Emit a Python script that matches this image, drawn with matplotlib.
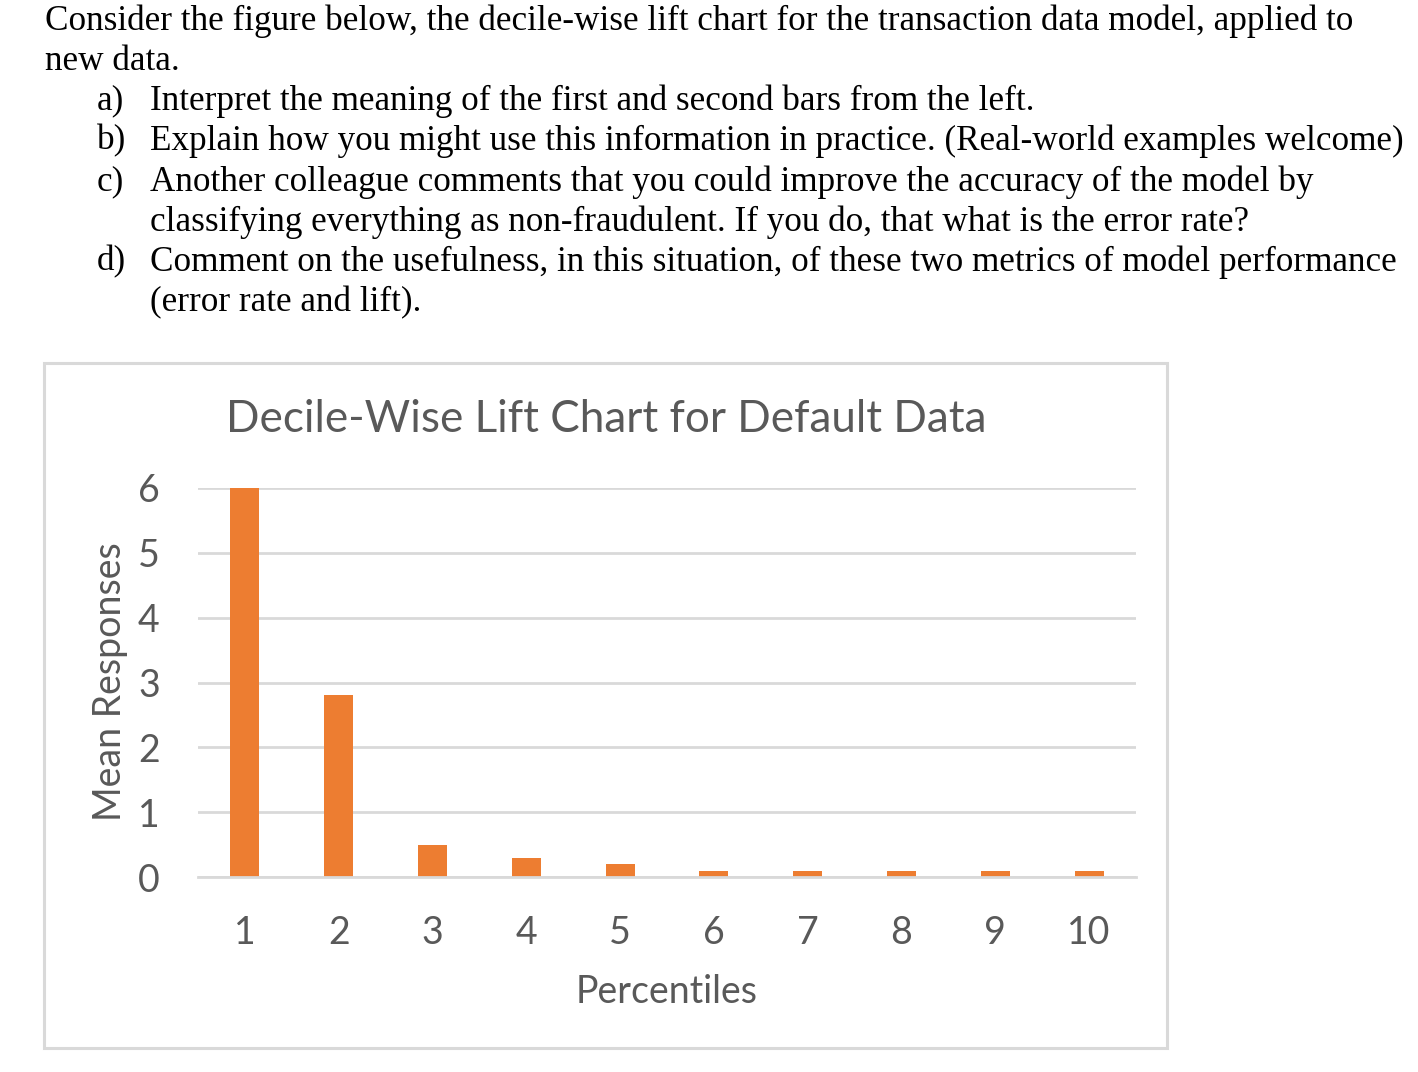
import matplotlib
matplotlib.use("Agg")
import matplotlib.pyplot as plt
from matplotlib.patches import Rectangle

# ---- data ----
deciles = [1, 2, 3, 4, 5, 6, 7, 8, 9, 10]
mean_responses = [6.0, 2.8, 0.5, 0.3, 0.2, 0.1, 0.1, 0.1, 0.1, 0.1]
y_ticks = [0, 1, 2, 3, 4, 5, 6]

title = "Decile-Wise Lift Chart for Default Data"
xlabel = "Percentiles"
ylabel = "Mean Responses"

question_lines = [
    (45, 20, "Consider the figure below, the decile-wise lift chart for the transaction data model, applied to"),
    (45, 60, "new data."),
    (150, 100, "Interpret the meaning of the first and second bars from the left."),
    (150, 140, "Explain how you might use this information in practice. (Real-world examples welcome)"),
    (150, 181, "Another colleague comments that you could improve the accuracy of the model by"),
    (150, 221, "classifying everything as non-fraudulent. If you do, that what is the error rate?"),
    (150, 261, "Comment on the usefulness, in this situation, of these two metrics of model performance"),
    (150, 302, "(error rate and lift)."),
]
item_labels = [(97, 100, "a)"), (97, 140, "b)"), (97, 181, "c)"), (97, 261, "d)")]

W, H = 1418, 1072
fig = plt.figure(figsize=(W / 100, H / 100), dpi=100)
fig.patch.set_facecolor("white")

def fx(x):
    return x / W

def fy(y):
    return 1 - y / H

serif = ["Liberation Serif", "DejaVu Serif"]
for x, y, s in question_lines + item_labels:
    fig.text(fx(x), fy(y + 1), s, family=serif, fontsize=25.3, color="black",
             ha="left", va="center")

# chart border
fig.patches.append(Rectangle((fx(44), fy(1048)), fx(1167) - fx(44), fy(363) - fy(1048),
                             transform=fig.transFigure, fill=False,
                             edgecolor="#d9d9d9", linewidth=2.2))

ax = fig.add_axes([fx(198), fy(877), fx(1136) - fx(198), fy(488) - fy(877)])
sans = ["Lato", "DejaVu Sans"]
gray = "#595959"

ax.bar(deciles, mean_responses, width=0.31, color="#ED7D31", zorder=3)
ax.set_xlim(0.5, 10.5)
ax.set_ylim(0, 6)
ax.set_yticks(y_ticks)
ax.set_xticks(deciles)
ax.set_xticklabels([str(d) for d in deciles], family=sans, fontsize=27, color=gray)
ax.set_yticklabels([str(t) for t in y_ticks], family=sans, fontsize=27, color=gray)
ax.tick_params(axis="both", length=0)
ax.tick_params(axis="x", pad=27)
ax.tick_params(axis="y", pad=27.5)
ax.yaxis.grid(True, color="#d9d9d9", linewidth=2, zorder=0)
for sp in ["top", "right", "left"]:
    ax.spines[sp].set_visible(False)
ax.spines["bottom"].set_color("#d9d9d9")
ax.spines["bottom"].set_linewidth(2)
ax.spines["bottom"].set_zorder(4)

fig.text(fx(606), fy(419), title, family=sans, fontsize=31.7, color=gray, ha="center", va="center")
fig.text(fx(667), fy(992), xlabel, family=sans, fontsize=27, color=gray, ha="center", va="center")
fig.text(fx(110), fy(682), ylabel, family=sans, fontsize=27, color=gray, ha="center", va="center",
         rotation=90)

fig.savefig("out.png", dpi=100, facecolor="white")
